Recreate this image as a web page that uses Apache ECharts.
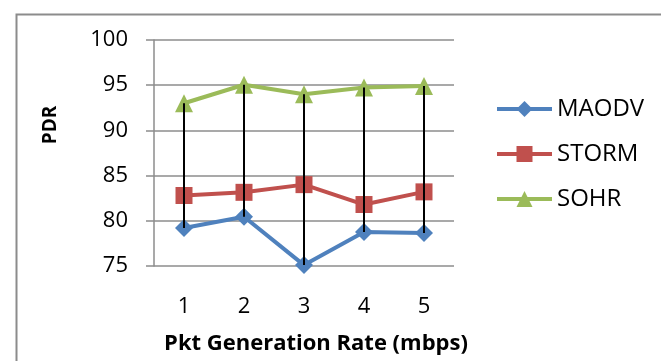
<!DOCTYPE html>
<html><head><meta charset="utf-8">
<script src="https://cdn.jsdelivr.net/npm/echarts@6/dist/echarts.min.js"></script>
<style>html,body{margin:0;padding:0;background:#fff}#c{width:661px;height:361px}</style>
</head><body><div id="c"></div>
<script>
const categories = ['1','2','3','4','5'];
const maodv = [79.2, 80.45, 75.1, 78.75, 78.65];
const storm = [82.8, 83.15, 84.0, 81.8, 83.2];
const sohr = [93.0, 95.05, 94.0, 94.75, 94.9];
const yTicks = {min: 75, max: 100, step: 5};

const hiLo = categories.map((c, i) => {
  const vals = [maodv[i], storm[i], sohr[i]];
  return [i, Math.min(...vals), Math.max(...vals)];
});

const FONT = '"Open Sans"';
const chart = echarts.init(document.getElementById('c'));
chart.setOption({
  animation: false,
  backgroundColor: '#fff',
  graphic: [{
    type: 'rect', left: 14, top: 12, shape: {width: 700, height: 400},
    style: {fill: 'none', stroke: '#8c8c8c', lineWidth: 2}, silent: true
  }, {
    type: 'text', x: 51, y: 125, rotation: Math.PI / 2, silent: true,
    style: {text: 'PDR', fontFamily: FONT, fontSize: 19, fontWeight: 'bold', fill: '#000',
            align: 'center', verticalAlign: 'middle'}
  }],
  grid: {left: 154, right: 207, top: 40, bottom: 95},
  legend: {
    orient: 'vertical', left: 490, top: 92, itemWidth: 55, itemHeight: 20, itemGap: 21,
    lineStyle: {width: 4},
    textStyle: {fontFamily: FONT, fontSize: 24, lineHeight: 24, color: '#000'},
    data: ['MAODV', 'STORM', 'SOHR']
  },
  xAxis: {
    type: 'category', data: categories, boundaryGap: true,
    axisLine: {show: false}, axisTick: {show: false},
    axisLabel: {fontFamily: FONT, fontSize: 22, color: '#000', margin: 30},
    name: 'Pkt Generation Rate (mbps)', nameLocation: 'middle', nameGap: 67,
    nameTextStyle: {fontFamily: FONT, fontSize: 22, fontWeight: 'bold', color: '#000',
                    padding: [0, 0, 0, 24]}
  },
  yAxis: {
    type: 'value', min: yTicks.min, max: yTicks.max, interval: yTicks.step,
    axisLine: {show: true, lineStyle: {color: '#8c8c8c', width: 1.5}},
    axisTick: {show: true, length: 8, lineStyle: {color: '#8c8c8c', width: 1.5}},
    splitLine: {lineStyle: {color: '#8c8c8c', width: 1.5}},
    axisLabel: {fontFamily: FONT, fontSize: 22, color: '#000', margin: 26}
  },
  series: [
    {name: 'MAODV', type: 'line', data: maodv, symbol: 'diamond', symbolSize: 18,
     itemStyle: {color: '#4F81BD'}, lineStyle: {width: 4, color: '#4F81BD'}, z: 3},
    {name: 'STORM', type: 'line', data: storm, symbol: 'rect', symbolSize: 17,
     itemStyle: {color: '#C0504D'}, lineStyle: {width: 4, color: '#C0504D'}, z: 3},
    {name: 'SOHR', type: 'line', data: sohr, symbol: 'triangle', symbolSize: 18,
     itemStyle: {color: '#9BBB59'}, lineStyle: {width: 4, color: '#9BBB59'}, z: 3},
    {type: 'custom', data: hiLo, z: 10, silent: true,
     renderItem: function (params, api) {
       const p1 = api.coord([api.value(0), api.value(1)]);
       const p2 = api.coord([api.value(0), api.value(2)]);
       return {type: 'line', shape: {x1: p1[0], y1: p1[1], x2: p2[0], y2: p2[1]},
               style: {stroke: '#000', lineWidth: 2}};
     }}
  ]
});
</script></body></html>
